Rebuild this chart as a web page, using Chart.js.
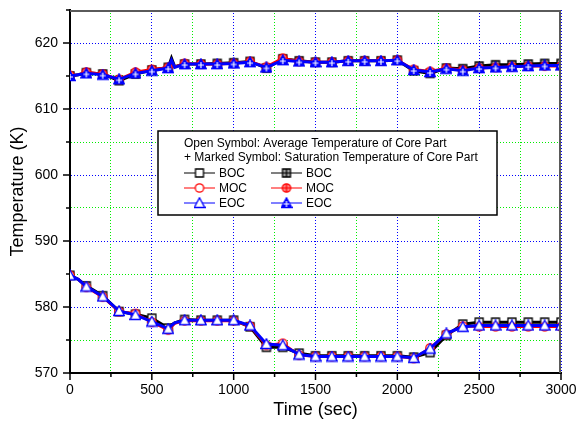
<!DOCTYPE html>
<html>
<head>
<meta charset="utf-8">
<script src="https://cdn.jsdelivr.net/npm/chart.js@4.4.1/dist/chart.umd.min.js"></script>
<style>body{margin:0;background:#fff}</style>
</head>
<body>
<canvas id="tempChart" width="578" height="429"></canvas>
<script>
// time axis (sec) - markers only drawn on the 100 s points
var timeSec = [0, 50, 100, 200, 300, 400, 500, 600, 620, 640, 700, 800, 900, 1000, 1100, 1200, 1300, 1400,
    1500, 1600, 1700, 1800, 1900, 2000, 2100, 2200, 2300, 2400, 2500, 2600, 2700, 2800, 2900, 3000];

// saturation temperature of core part (marked symbols)
var satBOC = [615.0, 615.2, 615.5, 615.3, 614.3, 615.3, 615.9, 616.3, 617.7, 616.4, 616.8, 616.8, 616.9, 617.0, 617.2, 616.2, 617.6, 617.3,
    617.1, 617.1, 617.3, 617.3, 617.3, 617.4, 615.8, 615.4, 616.2, 616.1, 616.5, 616.7, 616.7, 616.8, 616.9, 616.9];
var satMOC = [615.1, 615.2, 615.6, 615.3, 614.5, 615.6, 616.0, 616.3, 617.2, 616.4, 616.9, 616.8, 616.8, 616.9, 617.2, 616.4, 617.7, 617.2,
    617.1, 617.1, 617.3, 617.3, 617.3, 617.4, 616.0, 615.7, 616.2, 615.9, 616.2, 616.3, 616.4, 616.5, 616.5, 616.5];
var satEOC = [615.0, 615.2, 615.4, 615.2, 614.5, 615.4, 615.8, 616.2, 617.4, 616.3, 616.8, 616.8, 616.8, 616.9, 617.1, 616.3, 617.4, 617.2,
    617.1, 617.1, 617.3, 617.3, 617.3, 617.4, 615.9, 615.6, 616.1, 615.8, 616.2, 616.3, 616.4, 616.5, 616.6, 616.6];

// average temperature of core part (open symbols)
var avgBOC = [584.8, 584.2, 583.2, 581.7, 579.3, 578.9, 578.3, 576.8, 577.3, 577.6, 578.1, 578.0, 578.0, 578.0, 577.0, 573.9, 573.9, 573.0,
    572.6, 572.6, 572.6, 572.6, 572.6, 572.6, 572.4, 573.1, 575.7, 577.4, 577.7, 577.7, 577.7, 577.7, 577.7, 577.7];
var avgMOC = [584.8, 584.2, 583.0, 581.5, 579.3, 579.0, 577.7, 576.5, 577.0, 577.5, 577.9, 577.9, 577.9, 577.9, 577.1, 574.2, 574.5, 572.7,
    572.5, 572.5, 572.5, 572.5, 572.5, 572.5, 572.2, 573.8, 575.9, 577.1, 577.0, 577.0, 577.0, 577.0, 577.0, 577.0];
var avgEOC = [584.8, 584.2, 583.1, 581.6, 579.4, 578.8, 577.8, 576.7, 577.2, 577.6, 578.0, 578.0, 578.0, 578.0, 577.2, 574.4, 574.2, 572.8,
    572.5, 572.5, 572.5, 572.5, 572.5, 572.5, 572.3, 573.7, 576.0, 577.0, 577.2, 577.2, 577.2, 577.2, 577.2, 577.2];

var FONT = '"Liberation Sans", Arial, sans-serif';

// symbol images
function makeSymbol(shape, color, marked) {
    var c = document.createElement('canvas');
    c.width = 12; c.height = 12;
    var g = c.getContext('2d');
    g.strokeStyle = color;
    g.lineWidth = 1.3;
    g.fillStyle = '#fff';
    g.beginPath();
    if (shape === 'rect') {
        g.rect(2, 2, 8, 8);
    } else if (shape === 'circle') {
        g.arc(6, 6, 4.2, 0, Math.PI * 2);
    } else {
        g.moveTo(6, 0.8); g.lineTo(11.2, 10.5); g.lineTo(0.8, 10.5); g.closePath();
    }
    if (marked) g.fillStyle = shape === 'tri' ? color : (shape === 'rect' ? '#9a9a9a' : '#ff8080');
    g.fill();
    g.stroke();
    if (marked) {
        var tri = shape === 'tri';
        g.beginPath();
        g.strokeStyle = tri ? '#fff' : color;
        g.lineWidth = 1.2;
        g.moveTo(6, tri ? 4 : 2); g.lineTo(6, 10);
        g.moveTo(tri ? 3 : 2, tri ? 7 : 6); g.lineTo(tri ? 9 : 10, tri ? 7 : 6);
        g.stroke();
    }
    return c;
}

var symOpenB = makeSymbol('rect', '#000', false);
var symOpenM = makeSymbol('circle', '#ff0000', false);
var symOpenE = makeSymbol('tri', '#0000ff', false);
var symMarkB = makeSymbol('rect', '#000', true);
var symMarkM = makeSymbol('circle', '#ff0000', true);
var symMarkE = makeSymbol('tri', '#0000ff', true);

function series(values, color, symbol, order, width) {
    return {
        data: values.map(function (v, i) { return {x: timeSec[i], y: v}; }),
        borderColor: color,
        borderWidth: width,
        pointStyle: symbol,
        pointRadius: function (ctx) { return timeSec[ctx.dataIndex] % 100 === 0 ? 5 : 0; },
        tension: 0,
        order: order
    };
}

var frameAndTicks = {
    id: 'frameAndTicks',
    afterDraw: function (chart) {
        var ctx = chart.ctx;
        var a = chart.chartArea;
        var xs = chart.scales.x, ys = chart.scales.y;
        ctx.save();
        ctx.setLineDash([]);
        // gray top / right frame, kept just inside the plot edge
        ctx.strokeStyle = '#5a5a5a';
        ctx.lineWidth = 2;
        ctx.beginPath();
        ctx.moveTo(a.left, a.top + 1);
        ctx.lineTo(a.right - 1, a.top + 1);
        ctx.lineTo(a.right - 1, a.bottom);
        ctx.stroke();
        // outward ticks
        ctx.strokeStyle = '#000';
        ctx.lineWidth = 1.5;
        ctx.beginPath();
        xs.ticks.forEach(function (t) {
            var px = xs.getPixelForValue(t.value);
            var len = t.value % 500 === 0 ? 7 : 4;
            ctx.moveTo(px, a.bottom); ctx.lineTo(px, a.bottom + len);
        });
        ys.ticks.forEach(function (t) {
            var py = ys.getPixelForValue(t.value);
            var len = t.value % 10 === 0 ? 7 : 4;
            ctx.moveTo(a.left, py); ctx.lineTo(a.left - len, py);
        });
        ctx.stroke();

        // legend box
        ctx.fillStyle = '#fff';
        ctx.fillRect(158, 131, 339, 84);
        ctx.strokeStyle = '#000';
        ctx.lineWidth = 1.5;
        ctx.strokeRect(158, 131, 339, 84);
        ctx.fillStyle = '#000';
        ctx.font = '12px ' + FONT;
        ctx.textBaseline = 'middle';
        ctx.fillText('Open Symbol: Average Temperature of Core Part', 184, 143.5);
        ctx.fillText('+ Marked Symbol: Saturation Temperature of Core Part', 184, 158);
        var rows = [
            {label: 'BOC', color: '#000', open: symOpenB, mark: symMarkB},
            {label: 'MOC', color: '#ff0000', open: symOpenM, mark: symMarkM},
            {label: 'EOC', color: '#0000ff', open: symOpenE, mark: symMarkE}
        ];
        rows.forEach(function (r, i) {
            var y = 173 + i * 15;
            [[184, r.open], [271, r.mark]].forEach(function (col) {
                var x0 = col[0];
                ctx.strokeStyle = r.color;
                ctx.lineWidth = 1;
                ctx.beginPath();
                ctx.moveTo(x0, y); ctx.lineTo(x0 + 31, y);
                ctx.stroke();
                ctx.drawImage(col[1], x0 + 15.5 - 6, y - 6);
                ctx.fillStyle = '#000';
                ctx.fillText(r.label, x0 + 35, y + 0.5);
            });
        });
        ctx.restore();
    }
};

var ctx = document.getElementById('tempChart').getContext('2d');
new Chart(ctx, {
    type: 'line',
    data: {
        datasets: [
            series(avgBOC, '#000', symOpenB, 2, 3),
            series(avgMOC, '#ff0000', symOpenM, 1, 2.6),
            series(avgEOC, '#0000ff', symOpenE, 0, 3),
            series(satBOC, '#000', symMarkB, 2, 3),
            series(satMOC, '#ff0000', symMarkM, 1, 2.6),
            series(satEOC, '#0000ff', symMarkE, 0, 3)
        ]
    },
    options: {
        responsive: false,
        animation: false,
        layout: {padding: {top: 10, right: 17, left: 0, bottom: 0}},
        plugins: {legend: {display: false}, tooltip: {enabled: false}},
        scales: {
            x: {
                type: 'linear',
                min: 0,
                max: 3000,
                afterFit: function (s) {
                    s.height = 56;
                    s.paddingLeft = 0; s.paddingRight = 0;
                },
                ticks: {
                    stepSize: 250,
                    autoSkip: false,
                    maxRotation: 0,
                    padding: 9,
                    color: '#000',
                    font: {family: FONT, size: 14},
                    callback: function (v) { return v % 500 === 0 ? v : ''; }
                },
                grid: {
                    drawTicks: false,
                    lineWidth: 1,
                    color: function (c) { return c.tick && c.tick.value % 500 === 0 ? '#0000ff' : '#00ee00'; }
                },
                border: {display: true, color: '#000', width: 2, dash: [1, 2]},
                title: {display: true, text: 'Time (sec)', color: '#000', font: {family: FONT, size: 18}, padding: {top: 0, bottom: 8}}
            },
            y: {
                min: 570,
                max: 625,
                afterFit: function (s) {
                    s.width = 70;
                    s.paddingTop = 0; s.paddingBottom = 0;
                },
                ticks: {
                    stepSize: 5,
                    padding: 12,
                    color: '#000',
                    font: {family: FONT, size: 14},
                    callback: function (v) { return v % 10 === 0 ? v : ''; }
                },
                grid: {
                    drawTicks: false,
                    lineWidth: 1,
                    color: function (c) { return c.tick && c.tick.value % 10 === 0 ? '#0000ff' : '#00ee00'; }
                },
                border: {display: true, color: '#000', width: 2, dash: [1, 2]},
                title: {display: true, text: 'Temperature (K)', color: '#000', font: {family: FONT, size: 18}, padding: {top: 7, bottom: 0}}
            }
        }
    },
    plugins: [frameAndTicks]
});
</script>
</body>
</html>
